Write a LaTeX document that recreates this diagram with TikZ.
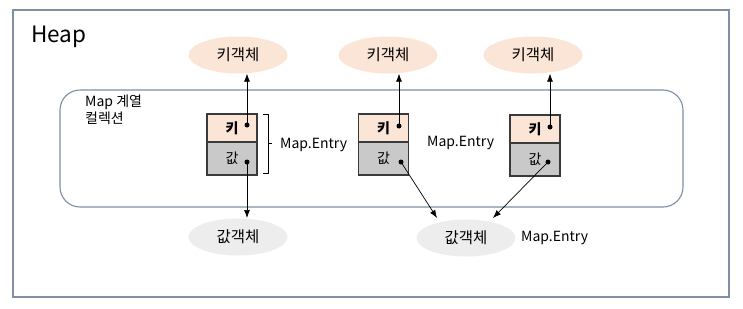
\documentclass[tikz,border=0pt]{standalone}
\usepackage{fontspec}
\setmainfont{Noto Sans CJK KR}
\usetikzlibrary{arrows.meta,shapes.geometric}
\definecolor{frame}{HTML}{7F8FA6}
\definecolor{keyfill}{HTML}{FBE5D6}
\definecolor{valfill}{HTML}{C9C9C9}
\definecolor{valobj}{HTML}{EDEDED}
\definecolor{boxline}{HTML}{3A3A3A}
\tikzset{
  keyobj/.style={ellipse, fill=keyfill, minimum width=99pt, minimum height=37pt, inner sep=0pt, font=\fontsize{15.5}{18}\selectfont},
  valobjs/.style={ellipse, fill=valobj, minimum width=99pt, minimum height=37pt, inner sep=0pt, font=\fontsize{15.5}{18}\selectfont},
  keycell/.style={rectangle, draw=boxline, line width=1.2pt, fill=keyfill, minimum width=50pt, minimum height=28pt, inner sep=0pt, font=\bfseries\fontsize{14}{16}\selectfont},
  valcell/.style={rectangle, draw=boxline, line width=1.2pt, fill=valfill, minimum width=50pt, minimum height=33pt, inner sep=0pt, font=\fontsize{14}{16}\selectfont},
  dotp/.style={circle, fill=black, inner sep=0pt, minimum size=5pt},
  ptr/.style={-{Latex[length=8pt,width=6pt]}, line width=0.7pt},
  lbl/.style={font=\fontsize{14}{17}\selectfont, inner sep=0pt},
}
\begin{document}
\begin{tikzpicture}[x=1pt,y=-1pt]
\useasboundingbox (0,0) rectangle (743,308);
\fill[white] (0,0) rectangle (743,308);
% heap frame
\draw[frame, line width=1.5pt] (13,10) rectangle (729,297);
\node[anchor=west, inner sep=0pt, font=\fontsize{22.5}{26}\selectfont] (heap) at (31,37) {Heap};
% collection
\draw[frame, line width=1.1pt, rounded corners=20pt] (60,90) rectangle (683,207);
\node[anchor=north west, align=left, inner sep=0pt, font=\fontsize{14}{17}\selectfont] (coll) at (85,95) {Map 계열\\컬렉션};
% key objects
\node[keyobj] (k1) at (238,55) {키객체};
\node[keyobj] (k2) at (388,55) {키객체};
\node[keyobj] (k3) at (533,55) {키객체};
% value objects
\node[valobjs] (v1) at (238,237) {값객체};
\node[valobjs] (v2) at (466,238) {값객체};
% entries
\node[keycell] (e1k) at (232,128) {키};
\node[valcell] (e1v) at (232,158.5) {값};
\node[keycell] (e2k) at (383.5,128) {키};
\node[valcell] (e2v) at (383.5,158.5) {값};
\node[keycell] (e3k) at (535,129) {키};
\node[valcell] (e3v) at (535,159.5) {값};
% dots
\node[dotp] (d1k) at (247,125) {};
\node[dotp] (d1v) at (247,162) {};
\node[dotp] (d2k) at (399,126) {};
\node[dotp] (d2v) at (401,162) {};
\node[dotp] (d3k) at (550,127) {};
\node[dotp] (d3v) at (548,162) {};
% pointers
\draw[ptr] (d1k.center) -- (d1k.center |- k1.south);
\draw[ptr] (d2k.center) -- (d2k.center |- k2.south);
\draw[ptr] (d3k.center) -- (d3k.center |- k3.south);
\coordinate (v1t) at (247,218);
\coordinate (v2a) at (437,218);
\coordinate (v2b) at (493,218);
\draw[ptr] (d1v.center) -- (v1t);
\draw[ptr] (d2v.center) -- (v2a);
\draw[ptr] (d3v.center) -- (v2b);
% bracket
\coordinate (b1) at (263,114);
\coordinate (b2) at (268,114);
\coordinate (b3) at (268,173);
\coordinate (b4) at (263,173);
\coordinate (bm) at (268,143.5);
\coordinate (bt) at (272,143.5);
\draw[line width=0.8pt] (b1) -- (b2) -- (b3) -- (b4);
\draw[line width=0.8pt] (bm) -- (bt);
% labels
\node[lbl, anchor=west] (m1) at (280,145) {Map.Entry};
\node[lbl, anchor=west] (m2) at (427,143) {Map.Entry};
\node[lbl, anchor=west] (m3) at (521,238) {Map.Entry};
\end{tikzpicture}
\end{document}
